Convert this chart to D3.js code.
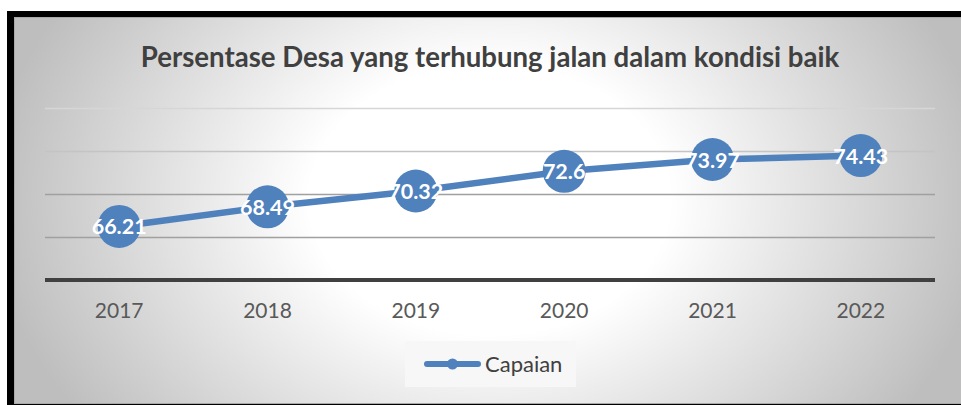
<!DOCTYPE html>
<html><head><meta charset="utf-8">
<script src="https://cdn.jsdelivr.net/npm/d3@7"></script>
<style>html,body{margin:0;padding:0;background:#fff;overflow:hidden}</style>
</head><body>
<svg id="c" width="961" height="405"></svg>
<script>
const years = ["2017","2018","2019","2020","2021","2022"];
const capaian = [66.21, 68.49, 70.32, 72.6, 73.97, 74.43];
const labels = ["66.21","68.49","70.32","72.6","73.97","74.43"];
const gridTicks = [65, 70, 75, 80];
const title = "Persentase Desa yang terhubung jalan dalam kondisi baik";
const seriesName = "Capaian";

const svg = d3.select("#c");
const defs = svg.append("defs");
const rg = defs.append("radialGradient").attr("id","bg").attr("gradientUnits","userSpaceOnUse")
  .attr("cx",490).attr("cy",200).attr("r",500)
  .attr("gradientTransform","translate(490,200) scale(1,0.75) translate(-490,-200)");
rg.append("stop").attr("offset","0").attr("stop-color","#ffffff");
rg.append("stop").attr("offset","0.36").attr("stop-color","#ffffff");
rg.append("stop").attr("offset","1").attr("stop-color","#bebebe");

// outer black frame
svg.append("rect").attr("x",7).attr("y",11).attr("width",954).attr("height",394).attr("fill","#000");
svg.append("rect").attr("x",14).attr("y",17).attr("width",947).attr("height",387).attr("fill","#a8a8a8");
svg.append("rect").attr("x",15).attr("y",18).attr("width",946).attr("height",385).attr("fill","url(#bg)");

const x = d3.scaleBand().domain(years).range([45,935]);
const y = d3.scaleLinear().domain([60,80]).range([280,107.5]);

const gridColors = {65:"#a0a0a0",70:"#a0a0a0",75:"#c4c4c4",80:"#d6d6d6"};
svg.append("g").selectAll("line").data(gridTicks).join("line")
  .attr("x1",45).attr("x2",935)
  .attr("y1",d=>Math.round(y(d))+0.5).attr("y2",d=>Math.round(y(d))+0.5)
  .attr("stroke",d=>gridColors[d]).attr("stroke-width",1.5);

// x axis
const xAxis = svg.append("g").attr("transform","translate(0,280)")
  .call(d3.axisBottom(x).tickSize(0).tickPadding(23));
xAxis.select(".domain").attr("stroke","#404040").attr("stroke-width",4).attr("d","M45,0H935");
xAxis.selectAll("text").attr("font-family","Lato").attr("font-size",21).attr("fill","#595959");

// title
svg.append("text").attr("x",490).attr("y",67).attr("text-anchor","middle")
  .attr("font-family","Lato").attr("font-weight","bold").attr("font-size",27.6)
  .attr("fill","#404040").text(title);

const cx = d => x(d) + x.bandwidth()/2;
const line = d3.line().x((d,i)=>cx(years[i])).y(d=>y(d));
svg.append("path").datum(capaian).attr("d",line).attr("fill","none")
  .attr("stroke","#4f81bd").attr("stroke-width",6.5).attr("stroke-linejoin","round");
svg.append("g").selectAll("circle").data(capaian).join("circle")
  .attr("cx",(d,i)=>cx(years[i])).attr("cy",d=>y(d)).attr("r",21.5).attr("fill","#4f81bd");
svg.append("g").selectAll("text").data(capaian).join("text")
  .attr("x",(d,i)=>cx(years[i])).attr("y",d=>y(d)+8)
  .attr("text-anchor","middle").attr("font-family","Lato").attr("font-weight","bold")
  .attr("font-size",21.5).attr("fill","#fff").text((d,i)=>labels[i]);

// legend
const lg = svg.append("g");
lg.append("rect").attr("x",405).attr("y",341).attr("width",171).attr("height",46).attr("fill","#f7f7f7");
lg.append("line").attr("x1",427).attr("x2",478).attr("y1",364).attr("y2",364)
  .attr("stroke","#4f81bd").attr("stroke-width",6).attr("stroke-linecap","round");
lg.append("circle").attr("cx",452.5).attr("cy",364).attr("r",5.5).attr("fill","#4f81bd");
lg.append("text").attr("x",485).attr("y",372).attr("font-family","Lato").attr("font-size",22)
  .attr("fill","#404040").text(seriesName);
</script>
</body></html>
